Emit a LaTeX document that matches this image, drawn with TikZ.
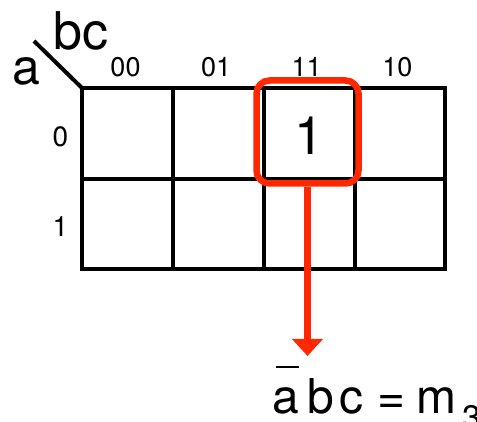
\documentclass[tikz,border=0pt]{standalone}
\usepackage{fontspec}
\setmainfont{TeX Gyre Heros}
\usepackage{tikz}
\usetikzlibrary{arrows.meta}
\definecolor{loopRed}{RGB}{255, 40, 0}

\begin{document}
\begin{tikzpicture}[x=1pt, y=-1pt, line width=4pt,
    varname/.style={anchor=base west, inner sep=0pt},
    colhead/.style={anchor=base, inner sep=0pt, font=\fontsize{27}{30}\selectfont}]
  \useasboundingbox (0,0) rectangle (477,422);
  % map grid
  \draw (82,88) rectangle (444.5,269);
  \foreach \x in {172.5, 263.5, 355}
    \draw (\x,88) -- (\x,269);
  \draw (82,179) -- (444.5,179);
  \draw (34,41) -- (82,88);
  % variables and headings
  \node[varname, font=\fontsize{52}{54}\selectfont] (bcvar) at (51.5,50) {bc};
  \node[varname, font=\fontsize{50}{52}\selectfont] (avar) at (10.2,85) {a};
  \foreach \lbl [count=\i from 0] in {00,01,11,10}
    \node[colhead] (col\lbl) at ({125.5+90.6*\i},77) {\lbl};
  \foreach \lbl/\y in {0/146.5, 1/237}
    \node[colhead, font=\fontsize{28}{30}\selectfont] (row\lbl) at (60.5,\y) {\lbl};
  % the single one and its loop
  \node[anchor=base, inner sep=0pt, font=\fontsize{53}{55}\selectfont] (one) at (309.4,155) {1};
  \node[draw=loopRed, line width=6.5pt, rounded corners=13pt, minimum width=102pt,
    minimum height=103pt, inner sep=0pt] (minterm) at (307.5,132) {};
  \node[varname, font=\fontsize{48}{50}\selectfont] (expr) at (270.8,413)
    {\makebox[0pt][l]{\kern3.2pt\rule[45pt]{23pt}{2pt}}a\kern7.7pt b\kern5.9pt c\kern14.2pt=\kern11pt m\kern5.4pt\raisebox{-17pt}{\fontsize{34}{36}\selectfont 3}};
  \draw[loopRed, line width=7pt, -{Triangle[width=30pt, length=17pt]}, shorten >=8pt]
    (minterm.south) -- (minterm.south |- expr.north);
\end{tikzpicture}
\end{document}
